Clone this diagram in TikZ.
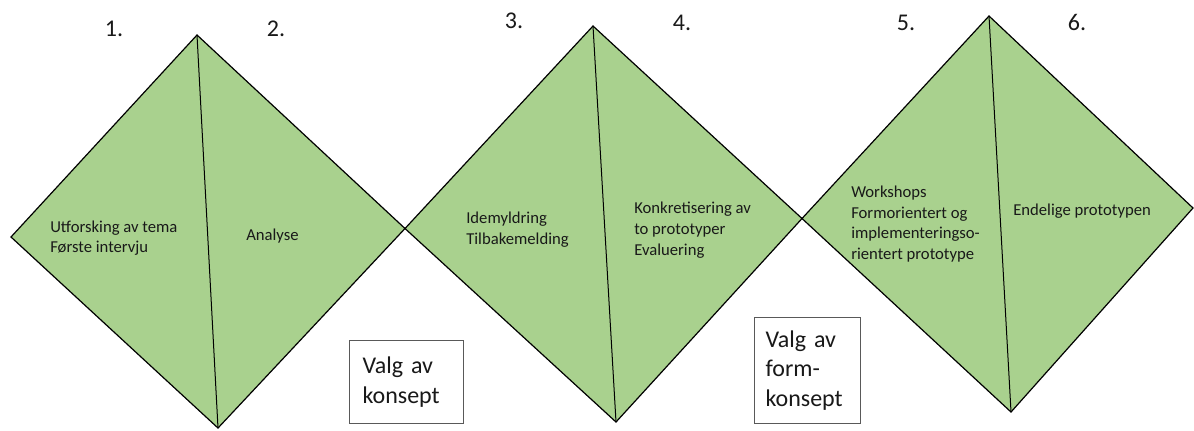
\documentclass[tikz,border=0pt]{standalone}
\usepackage{fontspec}
\setmainfont{Carlito}
\definecolor{leaf}{HTML}{A9D18E}
\begin{document}
\begin{tikzpicture}[x=0.75pt,y=-0.75pt,
  phase/.style={fill=leaf, draw=black, line width=0.9pt, line join=miter},
  split/.style={draw=black, line width=0.75pt},
  steptext/.style={anchor=west, align=left, inner sep=0pt, text=black!90,
    font=\fontsize{12.5}{15.5}\selectfont},
  stepnum/.style={inner sep=0pt, text=black!90, font=\fontsize{18}{22}\selectfont},
  choice/.style={draw=black!65, line width=0.75pt, fill=white, anchor=north west,
    align=left, inner ysep=0pt, text=black!90, font=\fontsize{18}{22}\selectfont}]
\useasboundingbox (0,0) rectangle (1194,430);

% corner points of the three phase diamonds
\coordinate (d1t) at (197,35);  \coordinate (d1r) at (405,228.5);
\coordinate (d1b) at (218,428); \coordinate (d1l) at (11,237);
\coordinate (d2t) at (593,26);  \coordinate (d2r) at (802,218.5);
\coordinate (d2b) at (616,422);
\coordinate (d3t) at (989,16);  \coordinate (d3r) at (1193,208);
\coordinate (d3b) at (1011,412);

% diamonds, each split into two steps
\draw[phase] (d1t) -- (d1r) -- (d1b) -- (d1l) -- cycle;
\draw[split] (d1t) -- (d1b);
\draw[phase] (d2t) -- (d2r) -- (d2b) -- (d1r) -- cycle;
\draw[split] (d2t) -- (d2b);
\draw[phase] (d3t) -- (d3r) -- (d3b) -- (d2r) -- cycle;
\draw[split] (d3t) -- (d3b);

% step numbers
\node[stepnum] (n1) at (114,29) {1.};
\node[stepnum] (n2) at (276,29) {2.};
\node[stepnum] (n3) at (514,20.5) {3.};
\node[stepnum] (n4) at (682,22.5) {4.};
\node[stepnum] (n5) at (906,22.5) {5.};
\node[stepnum] (n6) at (1077,22.5) {6.};

% step contents
\node[steptext] (s1) at (50,238) {Utforsking av tema\\Første intervju};
\node[steptext] (s2) at (246,236) {Analyse};
\node[steptext] (s3) at (466,229.5) {Idemyldring\\Tilbakemelding};
\node[steptext] (s4) at (634,230) {Konkretisering av\\to prototyper\\Evaluering};
\node[steptext] (s5) at (851,224) {Workshops\\Formorientert og\\implementeringso-\\rientert prototype};
\node[steptext] (s6) at (1013,211) {Endelige prototypen};

% decision points between the diamonds
\node[choice, minimum width=85.5pt, minimum height=62.25pt, text width=66pt,
  inner xsep=9.75pt] (c1) at (349,340) {Valg av\\konsept};
\node[choice, minimum width=79.5pt, minimum height=79.5pt, text width=63pt,
  inner xsep=8.25pt] (c2) at (754,317) {Valg av\\form-\\konsept};
\end{tikzpicture}
\end{document}
